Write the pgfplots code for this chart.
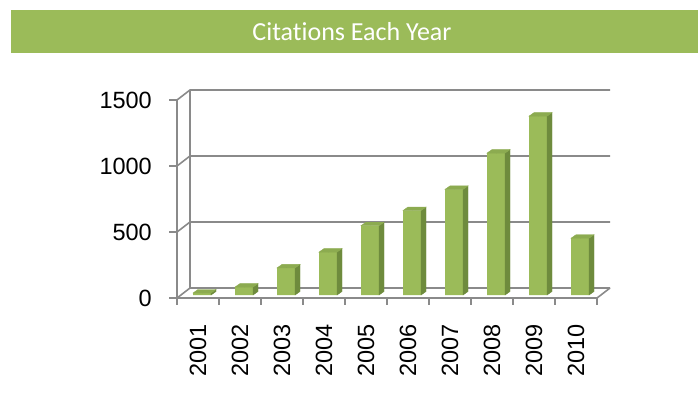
\documentclass[border=0pt]{standalone}
\usepackage{pgfplots}
\usepackage{pgfplotstable}
\pgfplotsset{compat=1.18}
\usepackage{fontspec}
\setmainfont{Liberation Sans}
\newfontfamily\titlefont[Ligatures=NoCommon]{Carlito}
\definecolor{barfront}{HTML}{9BBB59}
\definecolor{barside}{HTML}{6E8B3D}
\definecolor{bartop}{HTML}{8CAB50}
\definecolor{gridc}{HTML}{8A8A8A}
\definecolor{titlegreen}{HTML}{9BBB59}

\pgfplotstableread{
x y
0 15
1 60
2 205
3 325
4 525
5 640
6 800
7 1075
8 1355
9 430
}\citedata

\begin{document}
\begin{tikzpicture}
\path[use as bounding box] (0pt,0pt) rectangle (698pt,-405pt);
\fill[titlegreen] (11pt,-10pt) rectangle (698pt,-53pt);
\node[text=white, font={\titlefont\fontsize{26}{31}\selectfont}, inner sep=0pt] at (352pt,-31.5pt) {Citations Each Year};
\begin{axis}[
  at={(177pt,-298pt)}, anchor=south west,
  scale only axis, width=420pt, height=198pt,
  xmin=-0.5, xmax=9.5, ymin=0, ymax=1500,
  clip=false,
  axis line style={draw=none},
  tick style={draw=none},
  xtick={0,1,2,3,4,5,6,7,8,9},
  xticklabels={2001,2002,2003,2004,2005,2006,2007,2008,2009,2010},
  ytick={0,500,1000,1500},
  yticklabels={0,500,1000,1500},
  ticklabel style={font=\fontsize{23.5}{28}\selectfont, text=black},
  yticklabel style={anchor=east, inner sep=0pt, xshift=-25pt},
  xticklabel style={anchor=east, inner sep=0pt, yshift=-26pt, rotate=90},
]
% 3D frame: back wall gridlines with depth connectors
\pgfplotsinvokeforeach{0,500,1000,1500}{
  \draw[gridc, line width=1.6pt] (axis cs:-0.5,#1) -- ++(13pt,10pt) -- ++(420pt,0pt);
  \draw[gridc, line width=1.6pt] (axis cs:-0.5,#1) -- ++(-8pt,0pt);
}
\draw[gridc, line width=1.6pt] (axis cs:-0.5,0) ++(13pt,10pt) -- ++(0pt,198pt);
\draw[gridc, line width=1.6pt] (axis cs:-0.5,0) -- (axis cs:-0.5,1500);
\draw[gridc, line width=1.6pt] (axis cs:-0.5,0) -- (axis cs:9.5,0) -- ++(13pt,10pt);
\pgfplotsinvokeforeach{-0.5,0.5,1.5,2.5,3.5,4.5,5.5,6.5,7.5,8.5,9.5}{
  \draw[gridc, line width=1.6pt] (axis cs:#1,0) -- ++(0pt,-7pt);
}
% front faces
\addplot[ybar, bar width=18pt, bar shift=0pt, fill=barfront, draw=none, xshift=4pt, yshift=3pt] table[x=x,y=y] {\citedata};
% side and top faces
\addplot[only marks, scatter, mark=*, mark size=0pt, mark options={draw=none,fill=none},
  xshift=4pt, yshift=3pt,
  visualization depends on={rawy \as \rv},
  scatter/@pre marker code/.code={%
    \pgfmathsetmacro{\h}{\rv*0.132}%
    \pgfmathsetmacro{\hh}{3.5-\h}%
    \fill[barside] (9pt,0pt) -- (14pt,3.5pt) -- (14pt,\hh pt) -- (9pt,-\h pt) -- cycle;
    \fill[bartop] (-9pt,0pt) -- (9pt,0pt) -- (14pt,3.5pt) -- (-4pt,3.5pt) -- cycle;
  },
  scatter/@post marker code/.code={}
] table[x=x,y=y] {\citedata};
\end{axis}
\end{tikzpicture}
\end{document}
